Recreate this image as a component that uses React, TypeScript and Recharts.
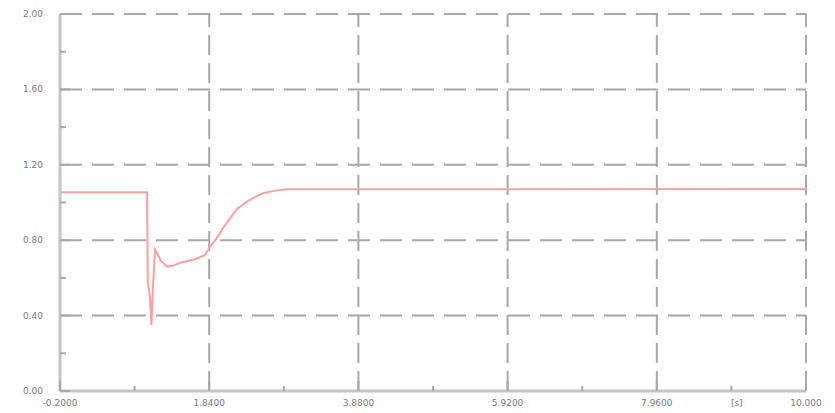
import React from 'react';
import { LineChart, Line, XAxis, YAxis, ReferenceLine } from 'recharts';

// time [s] and signal values
const times = [-0.2, 0.99, 1.0, 1.03, 1.05, 1.07, 1.1, 1.13, 1.18, 1.26, 1.35, 1.44, 1.55, 1.65, 1.78, 1.85, 1.94, 2.03, 2.13, 2.22, 2.35, 2.47, 2.58, 2.75, 2.9, 10.0];
const values = [1.054, 1.054, 0.58, 0.5, 0.35, 0.55, 0.75, 0.73, 0.69, 0.66, 0.665, 0.68, 0.69, 0.7, 0.72, 0.765, 0.81, 0.865, 0.918, 0.966, 1.003, 1.03, 1.05, 1.063, 1.07, 1.072];

const xMajor = [-0.2, 1.84, 3.88, 5.92, 7.96, 10.0];
const xMinor = [0.82, 2.86, 4.9, 6.94, 8.98];
const xLabels = ['-0.2000', '1.8400', '3.8800', '5.9200', '7.9600', '10.000'];

const yMajor = [0, 0.4, 0.8, 1.2, 1.6, 2.0];
const yMinor = [0.2, 0.6, 1.0, 1.4, 1.8];
const yLabels = ['0.00', '0.40', '0.80', '1.20', '1.60', '2.00'];

const data = times.map((t, i) => ({ t, v: values[i] }));

const W = 835;
const H = 413;
const M = { top: 14, right: 29, left: 0, bottom: 0 };
const YW = 60;
const XH = 22;
const plotLeft = M.left + YW;
const plotBottom = H - M.bottom - XH;

const gray = '#a8a8a8';
const axisGray = '#c4c4c4';
const labelColor = '#7a7a7a';

const YTick = (props: any) => {
  const { y, payload } = props;
  const idx = yMajor.indexOf(payload.value);
  const major = idx >= 0;
  return (
    <g>
      <line x1={plotLeft} x2={plotLeft + (major ? 10 : 6)} y1={y} y2={y} stroke={gray} strokeWidth={2} />
      {major && (
        <text x={43} y={y + 3} textAnchor="end" fontSize={9} fill={labelColor} fontFamily="DejaVu Sans">
          {yLabels[idx]}
        </text>
      )}
    </g>
  );
};

const XTick = (props: any) => {
  const { x, payload } = props;
  const idx = xMajor.indexOf(payload.value);
  const major = idx >= 0;
  return (
    <g>
      <line x1={x} x2={x} y1={plotBottom} y2={plotBottom - (major ? 10 : 5)} stroke={gray} strokeWidth={2} />
      {major && (
        <text x={x} y={plotBottom + 15} textAnchor="middle" fontSize={9} fill={labelColor} fontFamily="DejaVu Sans">
          {xLabels[idx]}
        </text>
      )}
    </g>
  );
};

export default function App() {
  return (
    <div style={{ position: 'fixed', left: 0, top: 0, width: W, height: H, background: '#fff' }}>
      <LineChart width={W} height={H} data={data} margin={M}>
        {yMajor.map((v) => (
          <ReferenceLine key={'h' + v} y={v} stroke={gray} strokeWidth={2} strokeDasharray="22 10" ifOverflow="extendDomain" />
        ))}
        {xMajor.map((v) => (
          <ReferenceLine key={'v' + v} x={v} stroke={gray} strokeWidth={2} strokeDasharray="20 8" />
        ))}
        <XAxis
          dataKey="t"
          type="number"
          domain={[-0.2, 10]}
          ticks={[...xMajor, ...xMinor].sort((a, b) => a - b)}
          tick={<XTick />}
          tickLine={false}
          axisLine={{ stroke: axisGray, strokeWidth: 3 }}
          height={XH}
          interval={0}
        />
        <YAxis
          type="number"
          domain={[0, 2]}
          ticks={[...yMajor, ...yMinor].sort((a, b) => a - b)}
          tick={<YTick />}
          tickLine={false}
          axisLine={{ stroke: axisGray, strokeWidth: 3 }}
          width={YW}
          interval={0}
        />
        <Line type="linear" dataKey="v" stroke="#ffa0a0" strokeWidth={2} dot={false} isAnimationActive={false} />
      </LineChart>
      <div style={{ position: 'absolute', left: 731, top: 398, fontSize: 9, color: labelColor, fontFamily: 'DejaVu Sans' }}>[s]</div>
    </div>
  );
}
